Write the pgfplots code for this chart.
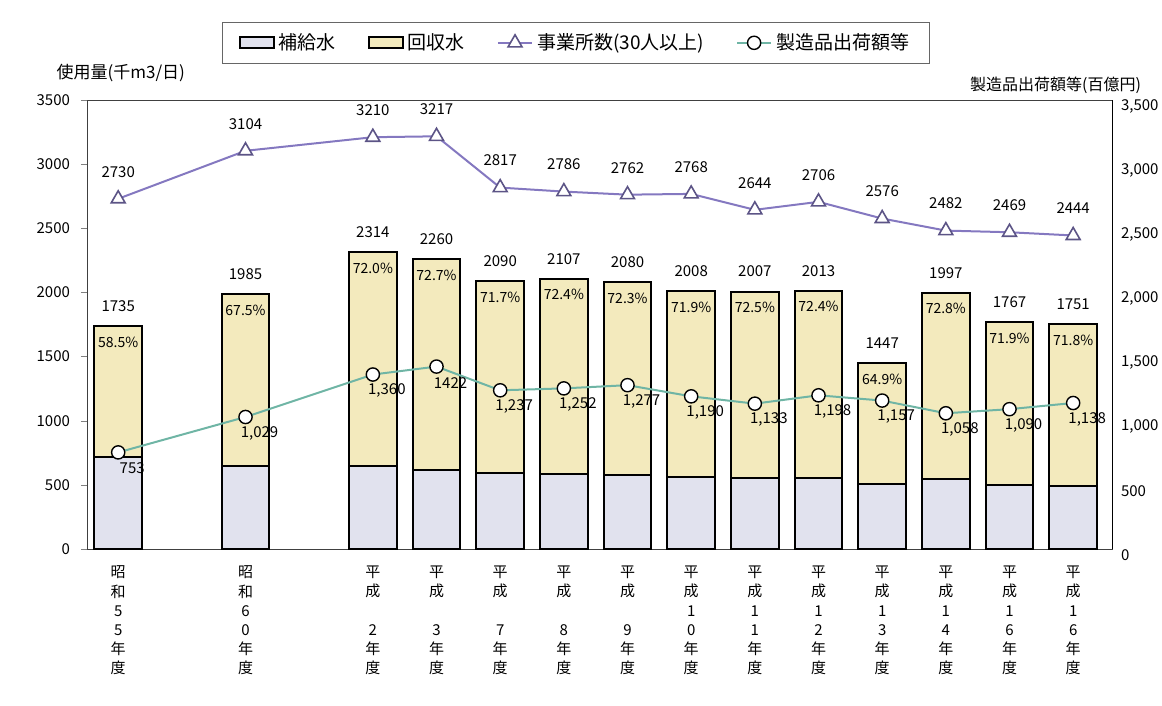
\documentclass[border=0pt]{standalone}
\usepackage{pgfplots}
\pgfplotsset{compat=1.18}
\usepackage{fontspec}
\setmainfont{Noto Sans CJK JP}

\definecolor{sup}{HTML}{E1E2EE}
\definecolor{rec}{HTML}{F3EABD}
\definecolor{estab}{HTML}{8478C0}
\definecolor{ship}{HTML}{6FB5A5}

\newcommand\vl[4]{#1\\#2\\#3\\#4\\年\\度}

\begin{document}
\begin{tikzpicture}
\useasboundingbox (-43.5pt,-78.5pt) rectangle (537.5pt,274.5pt);

% bars, left axis
\begin{axis}[
    at={(0,0)}, anchor=south west,
    scale only axis, width=512.5pt, height=224.5pt,
    clip=false,
    ybar stacked, bar width=0.75,
    xmin=-0.49, xmax=15.61, ymin=0, ymax=3500,
    ytick={0,500,...,3500}, ytick pos=left,
    yticklabel style={font=\fontsize{7.5}{9}\selectfont, xshift=-2pt},
    /pgf/number format/1000 sep={},
    /pgf/number format/assume math mode=true,
    xtick={0,2,4,5,6,7,8,9,10,11,12,13,14,15},
    xticklabels={
        {\vl{昭}{和}{5}{5}}, {\vl{昭}{和}{6}{0}}, {\vl{平}{成}{\mbox{}}{2}},
        {\vl{平}{成}{\mbox{}}{3}}, {\vl{平}{成}{\mbox{}}{7}}, {\vl{平}{成}{\mbox{}}{8}},
        {\vl{平}{成}{\mbox{}}{9}}, {\vl{平}{成}{1}{0}}, {\vl{平}{成}{1}{1}},
        {\vl{平}{成}{1}{2}}, {\vl{平}{成}{1}{3}}, {\vl{平}{成}{1}{4}},
        {\vl{平}{成}{1}{6}}, {\vl{平}{成}{1}{6}}},
    xticklabel style={font=\fontsize{7.5}{9.6}\selectfont, align=center, anchor=north, yshift=-2pt},
    xtick style={draw=none},
    tick align=outside, major tick length=3pt,
    axis line style={black!75},
]
\addplot[draw=black, line width=1pt, fill=sup]
coordinates {
(0,720.0) (2,645.1) (4,647.9) (5,617.0) (6,591.5) (7,581.5) (8,576.2)
(9,564.2) (10,551.9) (11,555.6) (12,507.9) (13,543.2) (14,496.5) (15,493.8)
};
\addplot[draw=black, line width=1pt, fill=rec]
coordinates {
(0,1015.0) (2,1339.9) (4,1666.1) (5,1643.0) (6,1498.5) (7,1525.5) (8,1503.8)
(9,1443.8) (10,1455.1) (11,1457.4) (12,939.1) (13,1453.8) (14,1270.5) (15,1257.2)
};
\node[font=\fontsize{8.5}{10}\selectfont] at (rel axis cs:0.033,1.060) {使用量(千m3/日)};
\node[font=\fontsize{8}{10}\selectfont] at (rel axis cs:0.945,1.033) {製造品出荷額等(百億円)};
\end{axis}

% lines and labels, right axis
\begin{axis}[
    at={(0,0)}, anchor=south west,
    scale only axis, width=512.5pt, height=224.5pt,
    xmin=-0.49, xmax=15.61, ymin=0, ymax=3500,
    axis x line=none, axis y line*=right,
    ytick={0,500,...,3500},
    yticklabel style={font=\fontsize{7.5}{9}\selectfont, yshift=-3pt, xshift=1pt},
    /pgf/number format/1000 sep={,},
    /pgf/number format/assume math mode=true,
    major tick length=0pt,
    axis line style={black},
    legend columns=4,
    legend style={at={(0.477,1.174)}, anchor=north, draw=black!60,
        font=\fontsize{9.5}{11}\selectfont, inner ysep=3.5pt, inner xsep=8pt,
        /tikz/every even column/.append style={column sep=14pt}},
    every node near coord/.append style={font=\fontsize{7.5}{9}\selectfont, black},
]
\addlegendimage{area legend, draw=black, line width=1pt, fill=sup}
\addlegendentry{補給水}
\addlegendimage{area legend, draw=black, line width=1pt, fill=rec}
\addlegendentry{回収水}

\addplot[estab, line width=1pt, mark=triangle*, mark size=4pt,
    mark options={fill=white, draw=estab!70!black, line width=0.8pt}]
coordinates {
(0,2730) (2,3104) (4,3210) (5,3217) (6,2817) (7,2786) (8,2762)
(9,2768) (10,2644) (11,2706) (12,2576) (13,2482) (14,2469) (15,2444)
};
\addlegendentry{事業所数(30人以上)}

\addplot[ship, line width=1pt, mark=*, mark size=3.3pt,
    mark options={fill=white, draw=black, line width=0.7pt}]
coordinates {
(0,753) (2,1029) (4,1360) (5,1422) (6,1237) (7,1252) (8,1277)
(9,1190) (10,1133) (11,1198) (12,1157) (13,1058) (14,1090) (15,1138)
};
\addlegendentry{製造品出荷額等}

% establishment labels
\addplot[forget plot, draw=none, mark=none, nodes near coords, point meta=explicit symbolic,
    nodes near coords style={anchor=center, yshift=13.5pt}]
coordinates {
(0,2730)[2730] (2,3104)[3104] (4,3210)[3210] (5,3217)[3217] (6,2817)[2817]
(7,2786)[2786] (8,2762)[2762] (9,2768)[2768] (10,2644)[2644] (11,2706)[2706]
(12,2576)[2576] (13,2482)[2482] (14,2469)[2469] (15,2444)[2444]
};
% shipment labels
\addplot[forget plot, draw=none, mark=none, nodes near coords, point meta=explicit symbolic,
    nodes near coords style={anchor=center, xshift=7pt, yshift=-8pt}]
coordinates {
(0,753)[753] (2,1029)[1,029] (4,1360)[1,360] (5,1422)[1422] (6,1237)[1,237]
(7,1252)[1,252] (8,1277)[1,277] (9,1190)[1,190] (10,1133)[1,133] (11,1198)[1,198]
(12,1157)[1,157] (13,1058)[1,058] (14,1090)[1,090] (15,1138)[1,138]
};
% bar totals
\addplot[forget plot, draw=none, mark=none, nodes near coords, point meta=explicit symbolic,
    nodes near coords style={anchor=center, yshift=10pt}]
coordinates {
(0,1735)[1735] (2,1985)[1985] (4,2314)[2314] (5,2260)[2260] (6,2090)[2090]
(7,2107)[2107] (8,2080)[2080] (9,2008)[2008] (10,2007)[2007] (11,2013)[2013]
(12,1447)[1447] (13,1997)[1997] (14,1767)[1767] (15,1751)[1751]
};
% recovery shares
\addplot[forget plot, draw=none, mark=none, nodes near coords, point meta=explicit symbolic,
    nodes near coords style={anchor=center, yshift=-8pt, font=\fontsize{7}{8}\selectfont}]
coordinates {
(0,1735)[58.5\%] (2,1985)[67.5\%] (4,2314)[72.0\%] (5,2260)[72.7\%] (6,2090)[71.7\%]
(7,2107)[72.4\%] (8,2080)[72.3\%] (9,2008)[71.9\%] (10,2007)[72.5\%] (11,2013)[72.4\%]
(12,1447)[64.9\%] (13,1997)[72.8\%] (14,1767)[71.9\%] (15,1751)[71.8\%]
};
\end{axis}
\end{tikzpicture}
\end{document}
